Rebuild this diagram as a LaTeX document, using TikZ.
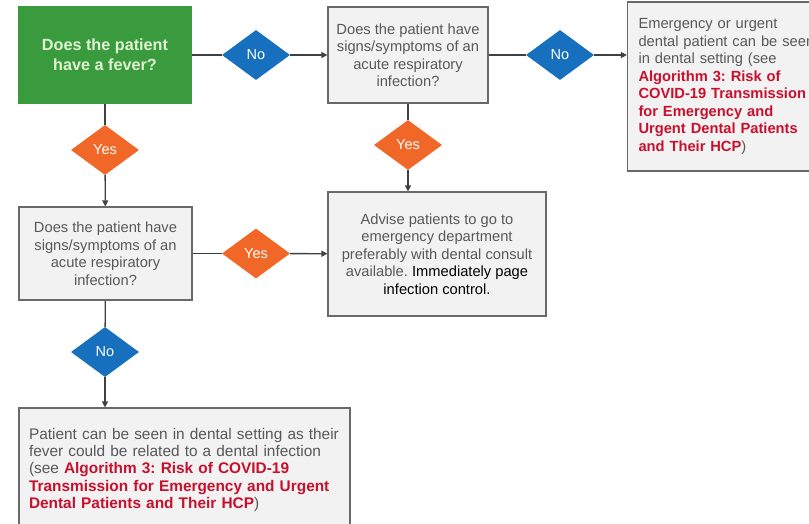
\documentclass[tikz,border=0pt]{standalone}
\usepackage{fontspec}
\setmainfont{Liberation Sans}
\usepackage{xcolor}
\usetikzlibrary{positioning,arrows.meta,shapes.geometric}
\definecolor{cdcgreen}{RGB}{58,154,62}
\definecolor{cdcpale}{RGB}{224,242,210}
\definecolor{cdcblue}{RGB}{22,112,190}
\definecolor{cdcorange}{RGB}{240,103,40}
\definecolor{cdcgrey}{RGB}{88,88,88}
\definecolor{cdcline}{RGB}{64,64,64}
\definecolor{cdcred}{RGB}{200,16,46}
\definecolor{cdcfill}{RGB}{242,242,242}
\frenchspacing
\newcommand{\algref}[1]{\textcolor{cdcred}{\bfseries #1}}
\tikzset{
  box/.style={draw=cdcgrey!90, line width=1.2pt, fill=cdcfill, align=center,
              text=cdcgrey, font=\fontsize{14.7}{17.5}\selectfont, inner sep=4pt},
  qbox/.style={box, fill=cdcgreen, draw=cdcgreen, text=cdcpale,
               font=\fontsize{16.2}{20}\selectfont\bfseries},
  note/.style={box, align=left, inner xsep=10pt},
  yesd/.style={diamond, aspect=1.4, fill=cdcorange, text=white, inner sep=0pt,
               minimum width=68pt, minimum height=50pt,
               font=\fontsize{14.5}{17}\selectfont},
  nod/.style={yesd, fill=cdcblue},
  link/.style={line width=1.3pt, color=cdcline},
  flow/.style={link, -{Triangle[length=6pt,width=6pt]}},
}

\begin{document}
\begin{tikzpicture}[x=1pt, y=-1pt]
\useasboundingbox (0,0) rectangle (809,523);
\clip (0,0) rectangle (809,523);
% top row
\node[qbox, minimum width=172pt, minimum height=96pt] (fever) at (105,55)
  {Does the patient\\have a fever?};
\node[nod] (noA) at (256,55) {No};
\node[box, minimum width=160pt, minimum height=96pt] (resp1) at (408,55)
  {Does the patient have\\signs/symptoms of an\\acute respiratory\\infection?};
\node[nod] (noB) at (560,55) {No};
\node[note, text width=186pt, inner xsep=11pt, minimum height=169pt] (emerg) at (731.5,86.5)
  {Emergency or urgent\\dental patient can be seen\\in dental setting (see\\
   \algref{Algorithm 3: Risk of}\\\algref{COVID-19 Transmission}\\
   \algref{for Emergency and}\\\algref{Urgent Dental Patients}\\
   \algref{and Their HCP})};
% middle row
\node[yesd] (yesA) at (105,150) {Yes};
\node[yesd] (yesB) at (408,145) {Yes};
\node[box, minimum width=173pt, minimum height=93pt] (resp2) at (105.5,253.5)
  {Does the patient have\\signs/symptoms of an\\acute respiratory\\infection?};
\node[yesd] (yesC) at (256,253.5) {Yes};
\node[box, minimum width=218pt, minimum height=124pt] (advise) at (437,254)
  {Advise patients to go to\\emergency department\\preferably with dental consult\\
   available. \textcolor{black}{Immediately page}\\\textcolor{black}{infection control.}};
% bottom row
\node[nod] (noC) at (105,352) {No};
\node[note, text width=311pt, minimum height=124pt,
      font=\fontsize{15.4}{17.2}\selectfont] (seen) at (184.5,470)
  {Patient can be seen in dental setting as their\\
   fever could be related to a dental infection\\
   (see \algref{Algorithm 3: Risk of COVID-19}\\
   \algref{Transmission for Emergency and Urgent}\\
   \algref{Dental Patients and Their HCP})};
% connectors
\draw[link] (fever) -- (noA);
\draw[flow] (noA) -- (resp1);
\draw[link] (resp1) -- (noB);
\draw[flow] (noB) -- (noB -| emerg.west);
\draw[link] (fever) -- (yesA);
\draw[flow] (yesA) -- (resp2);
\draw[link] (resp1) -- (yesB);
\draw[flow] (yesB) -- (yesB |- advise.north);
\draw[link] (resp2) -- (yesC);
\draw[flow] (yesC) -- (advise);
\draw[link] (resp2) -- (noC);
\draw[flow] (noC) -- (noC |- seen.north);
\end{tikzpicture}
\end{document}
